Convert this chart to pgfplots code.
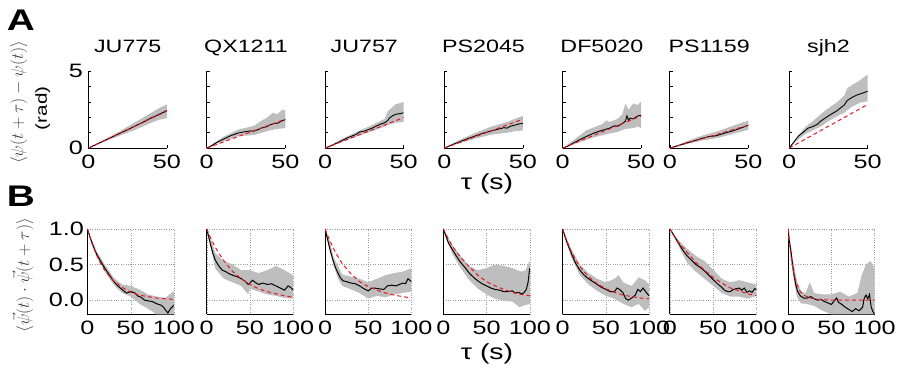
\documentclass[border=0pt]{standalone}
\usepackage{fontspec}
\setmainfont{Liberation Sans}[FakeStretch=1.3]
\usepackage{pgfplots}
\pgfplotsset{compat=1.18}
\usepgfplotslibrary{fillbetween}
\definecolor{bandgray}{RGB}{190,190,190}
\definecolor{fitred}{RGB}{240,20,30}
\pgfplotsset{
 common/.style={scale only axis, anchor=south west,
   axis x line*=bottom, axis y line*=left,
   axis line style={line width=0.9pt, black},
   tick style={black, line width=0.6pt}, tick align=inside,
   tick label style={font=\fontsize{19.5}{20}\selectfont},
   xticklabel style={yshift=-3pt},
   /pgf/number format/assume math mode=true,
   title style={font=\fontsize{18}{20}\selectfont, at={(0.5,1)}, anchor=base, yshift=13pt}},
 styleA/.style={common, width=79pt, height=77.3pt, xmin=0, xmax=50, ymin=0, ymax=5,
   xtick={0,50}, ytick={0,1,2,3,4,5}, major tick length=3pt,
   yticklabel style={xshift=-2pt}},
 styleB/.style={common, width=87pt, height=86pt, xmin=0, xmax=100, ymin=-0.2, ymax=1,
   xtick={0,50,100}, ytick={0,0.5,1}, grid=major,
   grid style={dotted, black!40, line width=0.4pt}, major tick length=0pt,
   yticklabel style={/pgf/number format/.cd, fixed, fixed zerofill, precision=1}},
}
\newcommand{\panelA}[7]{%
\begin{axis}[styleA, at={(#1pt,227pt)}, title={#2}, #3]
\addplot[name path=up, draw=none] coordinates {#4};
\addplot[name path=lo, draw=none] coordinates {#5};
\addplot[fill=bandgray, draw=none] fill between[of=up and lo];
\addplot[black, line width=0.9pt] coordinates {#6};
\addplot[fitred, line width=1pt, dash pattern=on 4pt off 3pt] coordinates {(0,0) (50,#7)};
\end{axis}}
\newcommand{\panelB}[6]{%
\begin{axis}[styleB, at={(#1pt,59.7pt)}, #2]
\addplot[name path=up, draw=none] coordinates {#3};
\addplot[name path=lo, draw=none] coordinates {#4};
\addplot[fill=bandgray, draw=none] fill between[of=up and lo];
\addplot[black, line width=1pt] coordinates {#5};
\addplot[fitred, line width=1pt, dash pattern=on 4pt off 3pt] coordinates {#6};
\end{axis}}
\begin{document}
\begin{tikzpicture}
\path (0,0) rectangle (899pt,376pt);
% ---------- Row A ----------
\panelA{89}{JU775}{yticklabels={0,,,,,5}}
 {(0,0) (10,0.55) (20,1.1) (30,1.7) (40,2.3) (45,2.6) (50,2.85)}
 {(0,0) (10,0.42) (20,0.82) (30,1.2) (40,1.65) (45,1.85) (50,1.95)}
 {(0,0) (5,0.24) (10,0.48) (15,0.72) (20,0.96) (25,1.2) (30,1.45) (35,1.7) (40,1.97) (42,2.05) (45,2.2) (48,2.35) (50,2.45)}
 {2.41}
\panelA{208}{QX1211}{yticklabels={}}
 {(0,0) (10,0.7) (20,1.2) (30,1.45) (35,1.8) (38,1.95) (42,2.3) (45,2.2) (48,2.5) (50,2.45)}
 {(0,0) (10,0.42) (20,0.78) (30,0.85) (35,1.0) (40,1.15) (45,1.25) (50,1.3)}
 {(0,0) (3,0.15) (6,0.35) (10,0.55) (15,0.8) (20,0.98) (25,1.08) (28,1.12) (30,1.1) (33,1.22) (36,1.35) (38,1.38) (40,1.5) (43,1.6) (45,1.62) (48,1.78) (50,1.85)}
 {1.88}
\panelA{327}{JU757}{yticklabels={}}
 {(0,0) (10,0.55) (20,1.05) (30,1.5) (38,1.9) (40,2.4) (45,2.85) (50,3.0)}
 {(0,0) (10,0.38) (20,0.75) (30,1.1) (38,1.4) (40,1.5) (45,1.65) (50,1.7)}
 {(0,0) (5,0.2) (10,0.45) (15,0.7) (20,0.9) (22,1.05) (25,1.1) (30,1.3) (35,1.55) (38,1.65) (40,1.8) (41,1.95) (43,2.1) (45,2.2) (48,2.25) (50,2.3)}
 {1.98}
\panelA{447}{PS2045}{yticklabels={}}
 {(0,0) (10,0.55) (20,1.0) (30,1.4) (40,1.7) (45,1.9) (50,2.1)}
 {(0,0) (10,0.32) (20,0.62) (30,0.88) (40,1.0) (45,1.1) (50,1.15)}
 {(0,0) (5,0.22) (10,0.42) (15,0.62) (20,0.8) (25,0.98) (30,1.12) (35,1.25) (38,1.33) (40,1.3) (42,1.42) (45,1.5) (48,1.58) (50,1.6)}
 {1.88}
\panelA{566}{DF5020}{yticklabels={}}
 {(0,0) (10,0.75) (15,1.15) (20,1.35) (25,1.55) (28,1.8) (30,1.7) (35,1.9) (38,2.2) (40,2.9) (42,2.5) (45,2.9) (48,2.8) (50,3.05)}
 {(0,0) (10,0.35) (20,0.7) (30,0.95) (35,1.05) (40,1.25) (45,1.3) (48,1.4) (50,1.3)}
 {(0,0) (3,0.1) (6,0.28) (10,0.5) (15,0.75) (20,0.98) (25,1.15) (30,1.3) (33,1.45) (35,1.42) (38,1.6) (40,1.75) (41,2.1) (42,1.8) (43,1.95) (45,1.9) (48,2.1) (50,2.13)}
 {2.09}
\panelA{674}{PS1159}{yticklabels={}}
 {(0,0) (10,0.42) (20,0.8) (30,1.08) (40,1.45) (50,1.8)}
 {(0,0) (10,0.25) (20,0.48) (30,0.65) (40,0.92) (50,1.2)}
 {(0,0) (5,0.15) (10,0.32) (15,0.46) (20,0.62) (25,0.75) (28,0.78) (30,0.82) (35,0.98) (40,1.12) (45,1.3) (50,1.49)}
 {1.49}
\panelA{794}{sjh2}{yticklabels={}}
 {(0,0) (5,0.7) (10,1.35) (15,1.75) (20,2.2) (25,2.6) (30,2.95) (35,3.4) (37,3.9) (40,4.1) (45,4.4) (50,4.8)}
 {(0,0) (5,0.5) (10,0.9) (15,1.15) (20,1.4) (25,1.75) (30,2.05) (35,2.3) (40,2.7) (45,2.95) (50,3.05)}
 {(0,0) (3,0.4) (6,0.8) (10,1.12) (12,1.3) (15,1.4) (18,1.55) (20,1.75) (25,2.1) (30,2.4) (35,2.8) (37,3.1) (40,3.3) (43,3.45) (46,3.55) (50,3.7)}
 {2.84}
% ---------- Row B ----------
\panelB{88}{}
 {(0,1.0) (10,0.7) (20,0.5) (30,0.32) (40,0.22) (50,0.2) (60,0.15) (70,0.08) (80,0.05) (90,0.03) (95,0.08) (100,0.13)}
 {(0,1.0) (10,0.62) (20,0.4) (30,0.22) (40,0.1) (50,0.05) (60,-0.05) (70,-0.12) (80,-0.2) (100,-0.2)}
 {(0,1.0) (3,0.88) (6,0.78) (10,0.66) (15,0.55) (20,0.45) (25,0.36) (30,0.27) (35,0.2) (40,0.15) (45,0.1) (50,0.12) (55,0.1) (58,0.06) (62,0.04) (66,0.0) (70,-0.01) (75,-0.02) (80,-0.05) (85,-0.07) (88,-0.1) (91,-0.15) (93,-0.18) (96,-0.12) (100,-0.07)}
 {(0,1) (5,0.8) (10,0.65) (15,0.52) (20,0.42) (30,0.27) (40,0.18) (50,0.11) (60,0.07) (70,0.05) (80,0.03) (100,0.01)}
\panelB{208}{yticklabels={}}
 {(0,1.0) (5,0.85) (10,0.66) (20,0.55) (30,0.5) (40,0.42) (50,0.42) (60,0.38) (70,0.42) (80,0.48) (90,0.42) (100,0.35)}
 {(0,1.0) (5,0.72) (10,0.44) (20,0.3) (30,0.25) (40,0.2) (48,0.08) (50,0.16) (60,0.12) (70,0.08) (80,0.06) (90,0.03) (100,0.02)}
 {(0,1.0) (2,0.9) (4,0.8) (7,0.66) (10,0.56) (14,0.48) (18,0.42) (22,0.4) (26,0.37) (30,0.35) (35,0.33) (40,0.3) (45,0.26) (48,0.22) (50,0.24) (53,0.28) (56,0.25) (60,0.22) (65,0.24) (70,0.22) (75,0.23) (80,0.2) (85,0.17) (90,0.14) (94,0.2) (97,0.18) (100,0.14)}
 {(0,1) (5,0.86) (10,0.74) (15,0.64) (20,0.55) (30,0.4) (40,0.3) (50,0.22) (60,0.16) (70,0.12) (80,0.09) (90,0.06) (100,0.04)}
\panelB{327}{yticklabels={}}
 {(0,1.0) (5,0.85) (10,0.6) (15,0.48) (20,0.36) (30,0.33) (40,0.3) (50,0.25) (60,0.3) (70,0.35) (80,0.38) (90,0.4) (100,0.45)}
 {(0,1.0) (5,0.72) (10,0.48) (15,0.3) (20,0.2) (30,0.15) (40,0.1) (50,0.02) (60,0.06) (70,0.04) (80,0.08) (90,0.1) (100,0.12)}
 {(0,1.0) (3,0.85) (6,0.7) (9,0.57) (12,0.46) (15,0.38) (18,0.31) (21,0.27) (25,0.26) (30,0.24) (35,0.23) (40,0.2) (45,0.16) (50,0.13) (53,0.16) (57,0.17) (62,0.16) (68,0.15) (72,0.2) (77,0.21) (82,0.2) (86,0.22) (90,0.24) (93,0.23) (96,0.3) (100,0.26)}
 {(0,1) (5,0.85) (10,0.72) (15,0.61) (20,0.51) (30,0.37) (40,0.26) (50,0.19) (60,0.14) (70,0.1) (80,0.07) (90,0.05) (100,0.03)}
\panelB{446}{yticklabels={}}
 {(0,1) (10,0.78) (20,0.62) (30,0.48) (40,0.42) (50,0.45) (60,0.5) (70,0.48) (80,0.45) (90,0.4) (95,0.42) (100,0.55)}
 {(0,1) (10,0.66) (20,0.45) (30,0.28) (40,0.16) (50,0.08) (60,0.02) (70,-0.01) (80,-0.02) (88,-0.1) (92,-0.08) (100,-0.05)}
 {(0,1.0) (3,0.9) (6,0.8) (10,0.72) (15,0.62) (20,0.53) (25,0.46) (30,0.38) (35,0.32) (40,0.27) (45,0.23) (50,0.2) (55,0.17) (60,0.15) (65,0.14) (70,0.12) (75,0.12) (80,0.13) (83,0.1) (87,0.11) (90,0.09) (93,0.1) (96,0.15) (98,0.25) (100,0.45)}
 {(0,1) (5,0.88) (10,0.77) (15,0.68) (20,0.6) (30,0.47) (40,0.35) (50,0.26) (60,0.2) (70,0.15) (80,0.11) (90,0.08) (100,0.06)}
\panelB{566}{yticklabels={}}
 {(0,1) (10,0.72) (20,0.5) (30,0.38) (40,0.3) (50,0.25) (60,0.3) (65,0.35) (70,0.25) (80,0.2) (88,0.32) (95,0.28) (100,0.22)}
 {(0,1) (10,0.6) (20,0.35) (30,0.22) (40,0.13) (50,0.06) (60,0.02) (70,-0.05) (80,-0.1) (88,-0.05) (95,-0.15) (100,-0.1)}
 {(0,1.0) (3,0.88) (6,0.78) (10,0.66) (15,0.52) (20,0.42) (25,0.35) (30,0.3) (35,0.26) (40,0.22) (45,0.18) (50,0.15) (55,0.12) (60,0.12) (63,0.17) (66,0.15) (70,0.1) (73,0.02) (76,0.0) (80,0.03) (84,0.07) (87,0.15) (90,0.12) (93,0.17) (96,0.12) (100,0.06)}
 {(0,1) (5,0.83) (10,0.68) (15,0.57) (20,0.47) (30,0.33) (40,0.23) (50,0.16) (60,0.11) (70,0.07) (80,0.05) (90,0.03) (100,0.02)}
\panelB{674}{yticklabels={}}
 {(0,1) (10,0.84) (20,0.72) (30,0.62) (40,0.55) (50,0.43) (60,0.3) (70,0.25) (80,0.28) (90,0.25) (100,0.22)}
 {(0,1) (10,0.76) (20,0.52) (30,0.4) (40,0.3) (50,0.2) (60,0.1) (70,0.05) (80,0.05) (90,0.02) (100,0.06)}
 {(0,1.0) (5,0.9) (10,0.8) (15,0.7) (20,0.62) (25,0.56) (30,0.5) (35,0.46) (40,0.41) (45,0.35) (50,0.29) (55,0.23) (60,0.18) (63,0.14) (67,0.12) (70,0.12) (73,0.15) (77,0.16) (80,0.17) (83,0.14) (86,0.17) (89,0.11) (92,0.13) (95,0.11) (98,0.16) (100,0.15)}
 {(0,1) (5,0.9) (10,0.81) (15,0.74) (20,0.67) (30,0.53) (40,0.42) (50,0.32) (60,0.24) (70,0.17) (80,0.13) (90,0.09) (100,0.06)}
\panelB{793}{yticklabels={}}
 {(0,1.0) (5,0.6) (10,0.28) (15,0.12) (20,0.1) (25,0.25) (30,0.1) (40,0.08) (50,0.08) (60,0.12) (70,0.05) (80,0.1) (85,0.35) (90,0.5) (95,0.55) (100,0.45)}
 {(0,0.9) (5,0.4) (10,0.05) (15,-0.05) (20,-0.05) (30,-0.08) (40,-0.15) (50,-0.2) (100,-0.2)}
 {(0,1.0) (1,0.85) (3,0.7) (5,0.5) (7,0.33) (9,0.2) (11,0.12) (14,0.06) (18,0.03) (22,0.03) (26,0.05) (30,0.02) (34,0.0) (38,0.01) (42,-0.02) (46,-0.04) (50,-0.06) (54,0.0) (56,0.03) (58,-0.03) (62,-0.06) (66,-0.1) (70,-0.13) (74,-0.16) (78,-0.12) (82,-0.15) (86,-0.1) (88,0.03) (90,0.07) (92,0.02) (94,0.08) (96,-0.1) (98,-0.16) (100,-0.2)}
 {(0,1.0) (2,0.75) (4,0.55) (6,0.41) (8,0.3) (10,0.22) (14,0.12) (18,0.07) (25,0.03) (35,0.01) (50,0.0) (100,0.0)}
% ---------- labels ----------
\node[font=\fontsize{30}{30}\selectfont\bfseries] at (21pt,356pt) {A};
\node[font=\fontsize{30}{30}\selectfont\bfseries] at (21pt,179pt) {B};
\node[font=\fontsize{22}{24}\selectfont] at (490pt,191pt) {τ (s)};
\node[font=\fontsize{22}{24}\selectfont] at (490pt,20pt) {τ (s)};
\node[rotate=90, text=black!75, font=\fontsize{17}{17}\selectfont] at (19pt,273pt) {$\langle\psi(t+\tau)-\psi(t)\rangle$};
\node[rotate=90, font=\fontsize{16}{16}\selectfont] at (43pt,267pt) {(rad)};
\node[rotate=90, text=black!75, font=\fontsize{17}{17}\selectfont] at (23pt,99pt) {$\langle\vec{\psi}(t)\cdot\vec{\psi}(t+\tau)\rangle$};
\end{tikzpicture}
\end{document}
